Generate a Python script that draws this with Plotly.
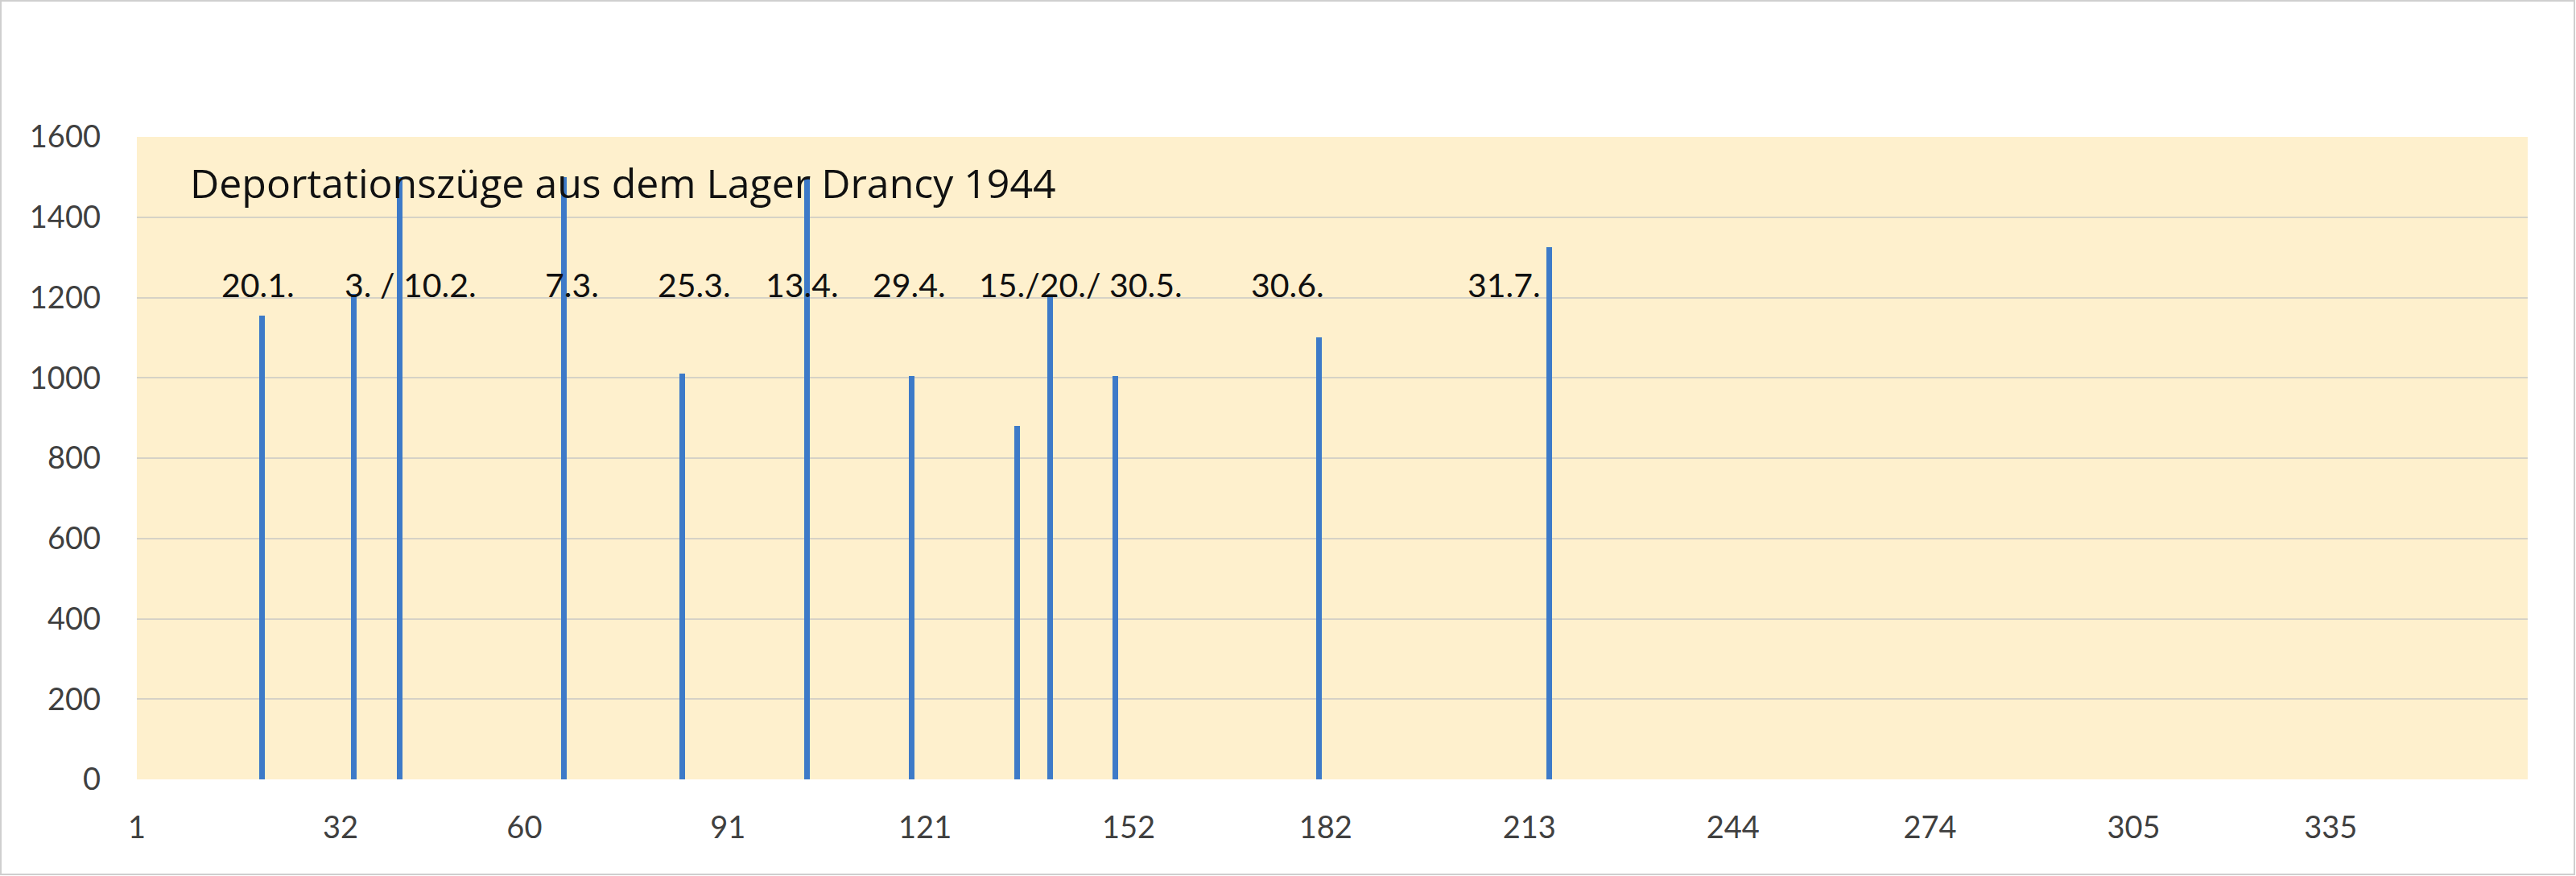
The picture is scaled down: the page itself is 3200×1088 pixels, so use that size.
import plotly.graph_objects as go

# Day of year (non-leap numbering, as on the axis) and number of deportees
days = [20, 34, 41, 66, 84, 103, 119, 135, 140, 150, 181, 216]
deportees = [1155, 1210, 1500, 1500, 1010, 1500, 1005, 880, 1205, 1005, 1100, 1325]

# Date labels and the day each label is centred on
date_labels = ["20.1.", "3. / 10.2.", "7.3.", "25.3.", "13.4.", "29.4.",
               "15./20./ 30.5.", "30.6.", "31.7."]
label_days = [19.4, 42.7, 67.2, 85.9, 102.3, 118.6, 144.7, 176.2, 209.2]

x_ticks = [1, 32, 60, 91, 121, 152, 182, 213, 244, 274, 305, 335]
y_ticks = [0, 200, 400, 600, 800, 1000, 1200, 1400, 1600]

title_text = "Deportationszüge aus dem Lager Drancy 1944"

FONT = "Lato"
W, H = 3200, 1088
ML, MR, MT, MB = 170, 60, 170, 120
PW, PH = W - ML - MR, H - MT - MB

fig = go.Figure()
fig.add_trace(go.Bar(
    x=days, y=deportees, width=0.85,
    marker=dict(color="#3D7AC8", line=dict(width=0)),
    showlegend=False,
))

annotations = []
for txt, d in zip(date_labels, label_days):
    annotations.append(dict(
        x=d, y=1232, xref="x", yref="y", text=txt, showarrow=False,
        xanchor="center", yanchor="middle",
        font=dict(family=FONT, size=41, color="#111111"),
    ))
annotations.append(dict(
    x=0.0215, y=0.929, xref="paper", yref="paper", text=title_text,
    showarrow=False, xanchor="left", yanchor="middle",
    font=dict(family="Open Sans", size=50, color="#111111"),
))

fig.update_layout(
    width=W, height=H,
    margin=dict(l=ML, r=MR, t=MT, b=MB, pad=0),
    paper_bgcolor="white",
    plot_bgcolor="#FEF0CD",
    annotations=annotations,
    shapes=[dict(
        type="rect", xref="paper", yref="paper",
        x0=-(ML - 1) / PW, x1=1 + (MR - 2) / PW,
        y0=-(MB - 2) / PH, y1=1 + (MT - 1) / PH,
        line=dict(color="#CFCFCF", width=2), fillcolor="rgba(0,0,0,0)",
        layer="below",
    )],
    bargap=0,
)
fig.update_xaxes(
    range=[1, 365], tickvals=x_ticks, ticktext=[str(t) for t in x_ticks],
    showgrid=False, zeroline=False, showline=False, ticks="",
    ticklabelstandoff=34,
    tickfont=dict(family=FONT, size=38, color="#404040"),
)
fig.update_yaxes(
    range=[0, 1600], tickvals=y_ticks,
    showgrid=True, gridcolor="#D6D2C6", gridwidth=2,
    zeroline=False, showline=False, ticks="",
    ticklabelstandoff=44,
    tickfont=dict(family=FONT, size=38, color="#404040"),
)

fig.write_html(
    "out.html",
    config={"displayModeBar": False},
    post_script="document.body.style.margin='0';document.body.style.overflow='hidden';",
)
